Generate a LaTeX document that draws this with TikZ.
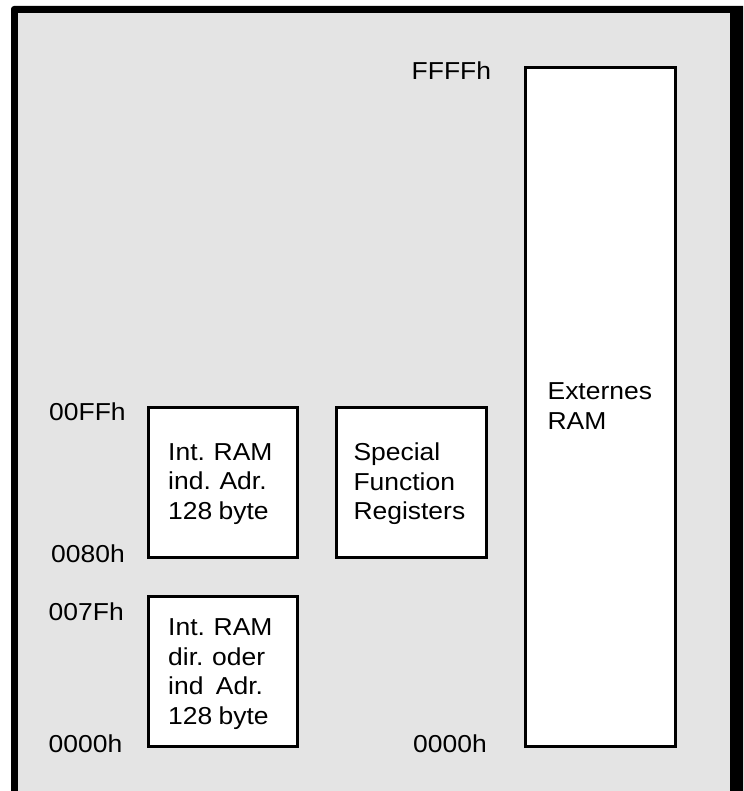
\documentclass[tikz,border=0pt]{standalone}
\usepackage{fontspec}
\setmainfont{Liberation Sans}[FakeStretch=1.08, WordSpace=0.85]
\usetikzlibrary{calc}
\definecolor{bggray}{HTML}{E4E4E4}
\tikzset{
  membox/.style={draw=black, line width=3pt, fill=white, inner sep=0pt},
  boxtext/.style={inner sep=0pt, anchor=west, align=left,
    font=\fontsize{24.5}{29.5}\selectfont},
  addr/.style={inner sep=0pt, anchor=base west, font=\fontsize{24.5}{29.5}\selectfont}
}
\begin{document}
\begin{tikzpicture}[x=1pt, y=-1pt]
\useasboundingbox (0,0) rectangle (743,791);
\clip (0,0) rectangle (743,791);
% frame
\fill[black, rounded corners=3pt] (11,6) rectangle (760,810);
\fill[bggray] (18,13) rectangle (730,810);
% memory blocks
\node[membox, minimum width=149.3pt, minimum height=150pt] (intind) at (222.85,482.5) {};
\node[membox, minimum width=149.3pt, minimum height=150pt] (intdir) at (222.85,671.5) {};
\node[membox, minimum width=150pt, minimum height=150pt] (sfr) at (411.5,482.5) {};
\node[membox, minimum width=150pt, minimum height=679pt] (ext) at (600.5,407) {};
% block texts
\node[boxtext] (intindt) at ($(intind.west)+(21.3,1.5)$) {Int. RAM\\ind. Adr.\\128 byte};
\node[boxtext] (intdirt) at ($(intdir.west)+(21.3,2.5)$) {Int. RAM\\dir. oder\\ind\ \ Adr.\\128 byte};
\node[boxtext] (sfrt) at ($(sfr.west)+(18.3,1.5)$) {Special\\Function\\Registers};
\node[boxtext, anchor=north west] (extt) at (547.4,382.5) {Externes\\RAM};
% address labels
\node[addr] (a00ff) at (49,420) {00FFh};
\node[addr] (a0080) at (51,562.7) {0080h};
\node[addr] (a007f) at (48.5,620) {007Fh};
\node[addr] (a0000l) at (48.5,752) {0000h};
\node[addr] (a0000r) at (413,752) {0000h};
\node[addr] (affff) at (411.5,80) {FFFFh};
\end{tikzpicture}
\end{document}
